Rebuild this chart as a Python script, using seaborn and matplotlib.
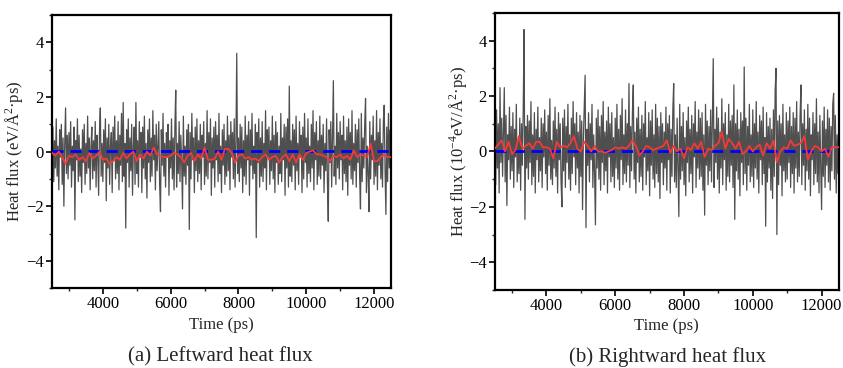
import numpy as np
import pandas as pd
import matplotlib
matplotlib.use("Agg")
import matplotlib.pyplot as plt
from matplotlib.ticker import MultipleLocator
import seaborn as sns

# ---------------- data ----------------
t_start, t_end = 2500, 12500
raw_step = 25      # ps between raw samples
avg_step = 100     # ps between averaged samples

left_raw = [
    -0.3, 0.9, -1.1, 0.4, -0.6, 1.2, -0.9, 0.2, -1.4, 0.8, -0.2, 1.0, -1.2, 0.5, -2.0, 0.3, 1.6, -0.8, 0.6, -1.0,
    0.7, -0.5, 1.1, -1.3, 0.2, -0.7, 0.9, -2.5, 0.4, -0.3, 1.2, -1.1, 0.6, -0.9, 0.1, -1.5, 0.8, -0.4, 1.0, -1.2,
    0.3, -0.8, 1.3, -0.6, 0.5, -1.4, 0.2, 0.9, -1.0, 0.4, -0.7, 1.1, -1.3, 0.6, -0.2, -1.6, 0.7, 1.6, -0.9, 0.3,
    -1.1, 0.8, -0.4, 1.2, -1.8, 0.5, -0.6, 1.0, -1.2, 0.2, 0.7, -1.5, 0.9, -0.3, 1.3, -1.0, 0.4, -0.8, 1.1, -1.4,
    0.6, -0.5, 1.4, -1.1, 1.8, -0.9, 0.3, -2.8, 0.8, -0.4, 1.2, -1.3, 0.5, -0.7, 1.0, -1.6, 0.2, 0.9, -1.2, 1.8,
    -0.8, 0.4, -1.3, 1.1, -0.2, 0.7, -1.5, 0.9, -0.6, 1.3, -1.0, 0.3, -1.7, 0.8, -0.4, 1.2, -1.1, 0.5, -0.9, 1.5,
    -0.3, 0.6, -1.4, 1.0, -0.7, 0.2, 1.1, -1.2, -2.2, 0.8, -0.5, 1.4, -0.9, 0.3, -1.3, 0.7, -0.2, 1.0, -1.6, 0.4,
    -0.6, 1.2, -1.0, 0.5, -1.4, 0.9, 2.25, -1.3, 0.3, -0.8, 1.1, -1.1, 0.6, -0.4, -2.1, 1.3, -0.9, 0.2, -1.2, 0.8,
    -0.5, 1.0, -2.85, 0.7, -1.0, 1.4, -0.3, 0.5, -1.5, 0.9, -0.7, 1.2, -1.1, 0.4, -0.8, 1.0, -1.4, 0.6, -0.2, 1.1,
    -1.2, 0.3, -0.9, 1.5, -1.0, 0.7, -0.4, 1.2, -1.6, 0.5, -0.6, 0.9, -1.3, 1.1, -0.3, 0.6, -1.1, 1.4, -0.8, 0.2,
    -1.5, 0.8, -0.5, 1.0, -1.2, 0.4, -0.9, 1.3, -0.7, 0.6, -1.4, 1.1, -0.2, 0.7, -1.0, 1.2, -1.3, 0.3, 3.6, -0.8,
    0.5, -1.1, 1.0, -0.6, 0.9, -1.5, 0.4, -0.9, 1.3, -1.2, 0.6, -0.3, 1.1, -1.6, 0.8, -0.5, 1.4, -1.0, 0.2, -0.8,
    1.0, -3.15, 0.7, -0.4, 1.2, -1.3, 0.5, -0.9, 1.1, -1.1, 0.3, -0.6, 1.5, -1.4, 0.8, -0.2, 0.9, -1.2, 0.4, -0.7,
    1.3, -1.0, 0.6, -1.5, 1.1, -0.4, 0.7, -1.2, 0.2, -0.8, 1.4, -1.1, 0.5, -0.3, 1.0, -1.6, 0.9, -0.6, 1.2, -1.3,
    2.4, -0.9, 0.4, -1.1, 1.0, -0.5, 0.8, -1.4, 1.3, -0.7, 0.3, -1.2, 1.1, -0.2, 0.6, -1.5, 0.9, -1.0, 1.4, -0.4,
    0.5, -1.3, 1.2, -0.8, 0.2, -1.1, 1.0, -0.6, 1.5, -1.4, 0.7, -0.3, 1.1, -1.2, 0.4, -0.9, 1.3, -1.0, 0.6, -0.5,
    1.0, -1.5, 0.3, -0.7, 1.2, -1.1, -2.55, 0.8, -0.4, 1.1, -1.3, 0.5, 2.6, -0.9, 0.2, -1.2, 1.4, -0.6, 0.7, -1.0,
    1.1, -0.3, 0.6, -1.4, 1.3, -0.8, 0.4, -1.1, 0.9, -1.6, 1.2, -0.5, 0.7, -1.0, 1.5, -1.2, 0.3, -0.7, 1.0, -1.3,
    0.8, -0.4, 1.2, -0.9, -2.1, 1.4, -1.1, 0.5, -0.6, 1.0, 1.95, -1.5, 0.2, -0.8, -2.2, 1.1, -1.0, 0.6, -0.3, 1.3,
    -1.2, 0.4, -0.9, 1.5, -1.4, 0.7, -0.5, 1.2, -1.0, 0.3, -1.3, 1.1, 1.7, -0.7, -2.3, 0.9, -1.1, 1.4, -0.6, 0.8,
    -0.4,
]

right_raw = [
    0.5, -1.2, 1.5, -0.6, 1.0, -1.5, 2.3, -0.4, 1.2, -0.9, 0.7, 2.3, -1.1, 1.3, -1.95, 0.6, -0.3, 1.6, -1.0, 0.9,
    -0.7, 1.4, -1.3, 0.8, -0.2, 1.7, -1.1, 0.4, -0.8, 1.2, -1.4, 1.0, -0.5, 1.5, 4.4, -2.45, 0.9, -0.6, 1.3, -1.0,
    1.1, -0.4, 1.8, -1.2, 0.6, -0.9, 1.4, -1.5, 0.8, -0.3, 1.6, -1.1, 0.5, -0.7, 1.2, -1.3, 1.0, -0.2, 1.5, -0.8,
    0.7, -1.4, 1.3, -0.5, 1.9, -1.0, 0.4, -1.2, 1.1, -0.6, 1.6, -0.9, 0.8, -1.5, 1.4, -0.3, 1.0, -1.1, -2.0, 1.2,
    -0.7, 1.5, -1.3, 0.9, -0.4, 1.7, -1.0, 0.6, -1.4, 1.2, -0.8, 1.8, -0.2, 1.0, -1.2, 1.4, -0.6, 0.7, -1.5, 1.3,
    -0.9, 1.1, -2.1, 0.5, 1.6, 2.75, -2.75, 0.8, -0.5, 1.4, -1.1, 1.0, -0.3, 1.7, -1.3, 0.6, -0.8, -2.65, 1.2, -0.6,
    1.5, -1.0, 0.9, -1.4, 1.3, -0.4, 1.8, -1.2, 0.7, -0.7, 1.1, -1.5, 1.6, -0.2, 1.0, -1.1, 1.4, -0.9, 0.5, -1.3,
    1.2, -0.6, 1.7, -1.0, 0.8, -1.4, 1.3, -0.3, 1.9, -1.2, 0.6, -0.8, 1.5, -1.1, 1.0, -0.5, 2.45, -1.3, 0.9, -0.7,
    1.4, 2.4, -1.0, 0.7, -1.5, 1.2, -0.4, 1.6, -1.1, 0.8, -0.9, 1.3, -1.4, 1.0, -0.2, 1.8, -1.2, 0.5, -0.7, 1.4,
    -1.6, 1.1, -0.5, 1.5, -1.0, 0.6, -1.3, 1.7, -0.8, 1.2, -1.1, 0.9, -1.7, 1.4, -0.4, 1.0, -1.2, 0.7, -0.6, 1.6,
    -1.4, 1.0, -0.3, 1.3, -1.5, 0.8, -0.9, 1.5, 2.45, -1.1, 0.6, -1.3, 1.2, -0.5, -2.35, 1.7, -1.0, 0.9, -0.7, 1.4,
    -1.2, 0.5, -1.6, 1.1, -0.4, 1.6, -1.1, 0.8, -0.8, 1.3, -1.5, 1.0, -0.2, 1.8, -1.3, 0.7, -0.6, 1.5, -1.0, 1.2,
    -0.9, 1.4, -1.4, 0.6, -2.3, 1.7, -0.5, 1.1, -1.2, 0.9, -0.7, 1.5, -1.1, 1.0, 3.35, -1.3, 0.8, -0.4, 1.6, -1.0,
    1.2, -1.5, 0.7, -0.6, 1.9, -1.2, 1.0, -0.3, 1.4, -1.4, 0.6, -0.9, 1.7, -1.1, 1.1, -0.5, 1.3, -1.3, 2.4, -2.45,
    1.0, -0.7, 1.5, -1.0, 0.8, -1.6, 1.4, -0.4, 1.1, -1.2, 3.05, -0.8, 1.2, -1.4, 0.9, -0.5, 1.7, -1.1, 0.6, -0.9,
    1.5, -1.3, 1.0, -0.6, 1.8, -1.0, 0.7, -1.5, 1.3, -0.3, 1.1, -1.2, 1.6, -0.8, 0.5, -2.7, 1.4, -1.1, 0.9, -0.6,
    1.2, -1.4, 0.8, -1.7, 1.5, -0.9, 2.2, 3.0, -3.0, 1.1, -1.2, 1.3, -0.5, 1.0, -1.6, 1.7, -0.7, 0.6, -1.1, 1.4,
    -1.0, 1.1, -0.4, 1.6, -1.3, 0.9, -0.8, 1.4, -1.5, 1.2, -0.6, 1.8, -1.1, 0.7, -0.9, 1.3, 2.4, -1.2, 1.0, -0.5,
    1.5, -1.4, 0.8, -0.7, 1.7, -1.0, 1.2, -1.6, 0.6, -0.3, 1.4, -1.2, 1.0, -0.8, 1.9, -1.1, 0.7, -1.5, 1.3, -0.6,
    -2.1, 1.1, -0.9, 1.6, -1.3, 0.8, -0.5, 1.5, -1.1, 1.2, -1.4, 0.9, -0.7, 1.7, 2.1, -1.0, 1.3, -1.5, 0.6, -0.8,
    1.0,
]

left_avg = [
    -0.05, -0.15, 0.0, -0.2, -0.45, -0.15, -0.2, -0.1, -0.3, -0.2,
    -0.35, -0.05, -0.25, -0.15, 0.0, -0.3, -0.25, -0.45, -0.35, -0.2,
    -0.3, -0.05, -0.25, -0.1, 0.0, -0.35, -0.1, -0.25, 0.0, -0.15,
    0.15, -0.1, -0.15, -0.2, -0.2, -0.15, -0.05, -0.1, -0.2, -0.4,
    -0.15, -0.05, -0.35, -0.1, -0.25, 0.15, -0.3, -0.3, -0.25, 0.0,
    -0.3, 0.1, 0.1, -0.05, -0.4, -0.15, -0.1, -0.25, -0.2, -0.3,
    -0.25, -0.35, -0.2, -0.1, -0.3, -0.2, -0.15, -0.4, -0.2, -0.1,
    -0.35, -0.1, -0.4, -0.1, -0.3, -0.05, 0.0, 0.05, -0.1, -0.1,
    -0.15, -0.2, -0.35, -0.15, -0.2, -0.1, -0.25, -0.15, -0.3, 0.05,
    -0.2, -0.1, -0.15, -0.2, 0.3, -0.35, -0.35, -0.2, -0.1, -0.2,
    -0.2,
]

right_avg = [
    0.1, 0.25, 0.4, 0.0, 0.35, -0.1, 0.05, 0.55, 0.1, 0.2,
    0.3, 0.1, 0.35, 0.35, 0.15, 0.15, 0.1, -0.25, 0.35, 0.15,
    0.2, 0.15, 0.3, 0.55, 0.1, 0.0, 0.35, 0.2, 0.0, 0.2,
    0.0, 0.0, -0.05, 0.0, 0.05, 0.15, 0.1, 0.15, 0.1, 0.2,
    0.4, 0.2, -0.15, 0.0, 0.2, 0.15, 0.05, 0.1, 0.15, 0.2,
    0.4, -0.05, 0.2, 0.0, 0.1, -0.25, 0.15, 0.05, 0.3, 0.1,
    0.35, -0.2, 0.1, 0.05, 0.2, 0.3, 0.7, 0.1, 0.45, 0.3,
    0.1, 0.35, -0.1, 0.0, 0.2, 0.0, 0.15, 0.25, -0.15, 0.3,
    0.1, 0.4, -0.4, 0.0, 0.15, 0.1, 0.4, 0.2, 0.25, 0.3,
    0.55, -0.3, 0.0, 0.2, 0.15, 0.0, 0.1, -0.2, 0.15, 0.15,
    0.15,
]

zero_level = 0.03

ylabels = ["Heat flux (eV/Å$^{2}$·ps)", "Heat flux (10$^{-4}$eV/Å$^{2}$·ps)"]
captions = ["(a) Leftward heat flux", "(b) Rightward heat flux"]
xlabel = "Time (ps)"

# ---------------- style ----------------
sns.set_theme(style="ticks")
plt.rcParams["font.family"] = ["Liberation Serif", "DejaVu Serif"]
plt.rcParams["mathtext.fontset"] = "custom"
plt.rcParams["mathtext.rm"] = "Liberation Serif"
plt.rcParams["mathtext.it"] = "Liberation Serif:italic"
plt.rcParams["mathtext.default"] = "regular"

fig = plt.figure(figsize=(8.43, 3.68), dpi=100)
ax_l = fig.add_axes([0.0617, 0.217, 0.4021, 0.742])
ax_r = fig.add_axes([0.587, 0.212, 0.408, 0.753])

panels = [
    (ax_l, left_raw, left_avg, ylabels[0], captions[0], 0.261, -0.08),
    (ax_r, right_raw, right_avg, ylabels[1], captions[1], 0.792, -0.076),
]

for ax, raw, avg, ylab, cap, cx, ylx in panels:
    df_raw = pd.DataFrame({"t": t_start + raw_step * np.arange(len(raw)), "q": raw})
    df_avg = pd.DataFrame({"t": t_start + avg_step * np.arange(len(avg)), "q": avg})
    sns.lineplot(data=df_raw, x="t", y="q", ax=ax, color="#4f4f4f", lw=0.9,
                 estimator=None, sort=False)
    ax.axhline(zero_level, color="#0000ff", lw=2.0, ls=(0, (4, 2.5)), zorder=3)
    sns.lineplot(data=df_avg, x="t", y="q", ax=ax, color="#f23a3a", lw=1.3,
                 estimator=None, sort=False, zorder=4)

    ax.set_xlim(t_start, t_end)
    ax.set_ylim(-5, 5)
    ax.xaxis.set_major_locator(MultipleLocator(2000))
    ax.xaxis.set_minor_locator(MultipleLocator(1000))
    ax.yaxis.set_major_locator(MultipleLocator(2))
    ax.yaxis.set_minor_locator(MultipleLocator(1))
    ax.tick_params(which="major", direction="out", length=4, width=1.2,
                   labelsize=12, colors="black", pad=2)
    ax.tick_params(which="minor", direction="out", length=2.5, width=1.0)
    ax.tick_params(axis="x", which="both", top=False)
    ax.tick_params(axis="y", which="both", right=False)
    for s in ax.spines.values():
        s.set_linewidth(1.6)
        s.set_color("black")
        s.set_visible(True)
    ax.set_xlabel(xlabel, fontsize=12, labelpad=3)
    ax.set_ylabel(ylab, fontsize=12)
    ax.yaxis.set_label_coords(ylx, 0.5)
    fig.text(cx, 0.03, cap, ha="center", va="center", fontsize=15)

fig.savefig("out.png", dpi=100)
